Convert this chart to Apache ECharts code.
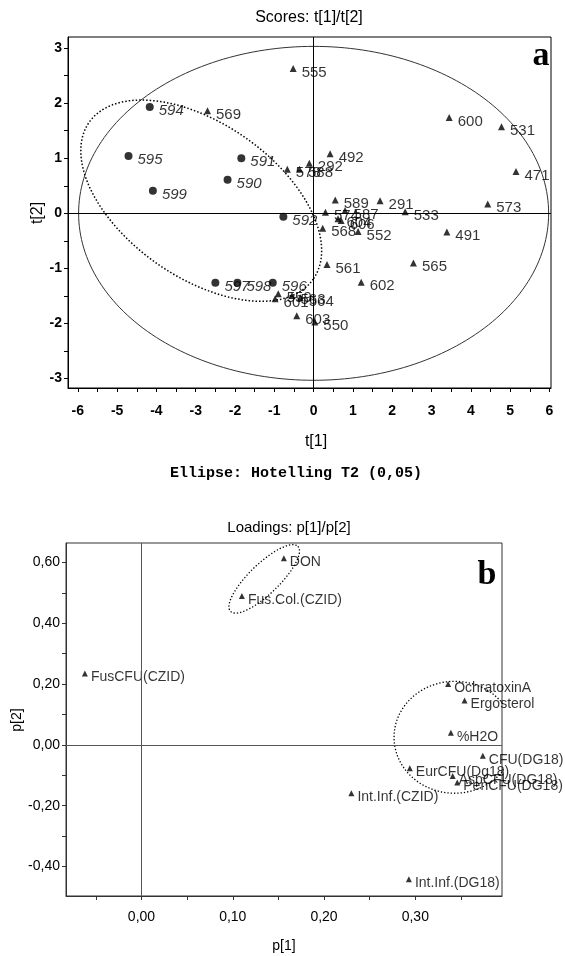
<!DOCTYPE html>
<html><head><meta charset="utf-8">
<script src="https://cdn.jsdelivr.net/npm/echarts@6/dist/echarts.min.js"></script>
<style>html,body{margin:0;padding:0;background:#fff}#c{width:565px;height:956px}</style>
</head><body><div id="c"></div><script>
// ---------- Scores plot (a) ----------
const scoreCircleNames = ['594','595','591','590','599','592','597','598','596'];
const scoreCircleX = [-4.17,-4.71,-1.84,-2.19,-4.09,-0.77,-2.50,-1.94,-1.04];
const scoreCircleY = [1.93,1.04,1.00,0.61,0.41,-0.06,-1.26,-1.26,-1.26];

const scoreTriNames = ['555','569','578','588','292','492','589','574','587','604','606','568','552','291','533','600','531','471','573','491','561','565','602','559','563','564','601','603','550'];
const scoreTriX = [-0.52,-2.70,-0.67,-0.36,-0.11,0.42,0.55,0.30,0.80,0.62,0.70,0.23,1.13,1.69,2.33,3.45,4.78,5.15,4.43,3.39,0.34,2.54,1.21,-0.90,-0.55,-0.34,-0.98,-0.43,0.03];
const scoreTriY = [2.63,1.86,0.80,0.80,0.91,1.08,0.24,0.02,0.05,-0.10,-0.13,-0.27,-0.33,0.23,0.03,1.74,1.57,0.76,0.17,-0.34,-0.93,-0.90,-1.25,-1.46,-1.49,-1.53,-1.55,-1.86,-1.97];

const scoreXLabels = [-6,-5,-4,-3,-2,-1,0,1,2,3,4,5,6];
const scoreXTicks = [-6,-5.5,-5,-4.5,-4,-3.5,-3,-2.5,-2,-1.5,-1,-0.5,0,0.5,1,1.5,2,2.5,3,3.5,4,4.5,5,5.5,6];
const scoreYLabels = [-3,-2,-1,0,1,2,3];
const scoreYTicks = [-3,-2.5,-2,-1.5,-1,-0.5,0,0.5,1,1.5,2,2.5,3];

// ellipse parameters: [cx, cy, ux, uy, vx, vy]
const hotellingEllipse = [0, 0, 5.98, 0, 0, 3.03];
const scoreGroupEllipse = [-2.86, 0.23, 2.851, -1.424, -1.123, -1.143];

// ---------- Loadings plot (b) ----------
const loadNames = ['DON','Fus.Col.(CZID)','FusCFU(CZID)','OchratoxinA','Ergosterol','%H2O','CFU(DG18)','EurCFU(Dg18)','AspCFU(DG18)','PenCFU(DG18)','Int.Inf.(CZID)','Int.Inf.(DG18)'];
const loadX = [0.156,0.110,-0.062,0.336,0.354,0.339,0.374,0.294,0.341,0.346,0.230,0.293];
const loadY = [0.614,0.490,0.235,0.200,0.146,0.040,-0.036,-0.077,-0.102,-0.124,-0.159,-0.442];

const loadXLabels = [0,0.1,0.2,0.3];
const loadXTicks = [-0.05,0,0.05,0.1,0.15,0.2,0.25,0.3,0.35];
const loadYLabels = [-0.4,-0.2,0,0.2,0.4,0.6];
const loadYTicks = [-0.4,-0.3,-0.2,-0.1,0,0.1,0.2,0.3,0.4,0.5,0.6];

const loadEllipse1 = [0.1345, 0.546, 0.0370, 0.1072, 0.0114, -0.0355];
const loadEllipse2 = [0.343, 0.025, 0.0663, 0, 0, 0.184];

function ellipsePts(p, n) {
  const out = [];
  for (let i = 0; i <= n; i++) {
    const t = 2 * Math.PI * i / n;
    out.push([p[0] + p[2] * Math.cos(t) + p[4] * Math.sin(t), p[1] + p[3] * Math.cos(t) + p[5] * Math.sin(t)]);
  }
  return out;
}
function zip(xs, ys, ns) { return xs.map((x, i) => [x, ys[i], ns[i]]); }
const comma = v => (Math.abs(v) < 1e-9 ? 0 : v).toFixed(2).replace('.', ',');

const F = 'Liberation Sans, Arial, Helvetica, sans-serif';
const zeroMark = (color) => ({
  silent: true, symbol: ['none', 'none'], animation: false,
  label: { show: false },
  lineStyle: { color: color, width: 1, type: 'solid' },
  emphasis: { disabled: true },
  data: [{ xAxis: 0 }, { yAxis: 0 }]
});

const chart = echarts.init(document.getElementById('c'), null, { renderer: 'canvas' });
chart.setOption({
  animation: false,
  backgroundColor: '#fff',
  grid: [
    { left: 68, top: 37, width: 483, height: 351, show: true, borderColor: '#000', borderWidth: 1, containLabel: false, outerBoundsMode: 'none' },
    { left: 66, top: 543, width: 436, height: 353, show: true, borderColor: '#333', borderWidth: 1, containLabel: false, outerBoundsMode: 'none' }
  ],
  xAxis: [
    { type: 'value', gridIndex: 0, min: -6.25, max: 6.04,
      axisLine: { show: true, onZero: false, lineStyle: { color: '#000', width: 1 } },
      axisTick: { show: true, customValues: scoreXTicks, length: 4, lineStyle: { color: '#000' } },
      axisLabel: { customValues: scoreXLabels, margin: 16, fontSize: 14, fontWeight: 'bold', color: '#000', fontFamily: F },
      splitLine: { show: false } },
    { type: 'value', gridIndex: 1, min: -0.0827, max: 0.395,
      axisLine: { show: true, onZero: false, lineStyle: { color: '#333', width: 1 } },
      axisTick: { show: true, customValues: loadXTicks, length: 4, lineStyle: { color: '#333' } },
      axisLabel: { customValues: loadXLabels, margin: 14, fontSize: 14, color: '#000', fontFamily: F, formatter: comma },
      splitLine: { show: false } }
  ],
  yAxis: [
    { type: 'value', gridIndex: 0, min: -3.17, max: 3.2,
      axisLine: { show: true, onZero: false, lineStyle: { color: '#000', width: 1 } },
      axisTick: { show: true, customValues: scoreYTicks, length: 4, lineStyle: { color: '#000' } },
      axisLabel: { customValues: scoreYLabels, margin: 6, fontSize: 14, fontWeight: 'bold', color: '#000', fontFamily: F },
      splitLine: { show: false } },
    { type: 'value', gridIndex: 1, min: -0.497, max: 0.664,
      axisLine: { show: true, onZero: false, lineStyle: { color: '#333', width: 1 } },
      axisTick: { show: true, customValues: loadYTicks, length: 4, lineStyle: { color: '#333' } },
      axisLabel: { customValues: loadYLabels, margin: 6, fontSize: 14, color: '#000', fontFamily: F, formatter: comma },
      splitLine: { show: false } }
  ],
  series: [
    { type: 'line', xAxisIndex: 0, yAxisIndex: 0, data: ellipsePts(hotellingEllipse, 240), showSymbol: false, symbol: 'none', silent: true,
      lineStyle: { color: '#333', width: 1 }, clip: false, z: 1 },
    { type: 'line', xAxisIndex: 0, yAxisIndex: 0, data: ellipsePts(scoreGroupEllipse, 240), showSymbol: false, symbol: 'none', silent: true,
      lineStyle: { color: '#000', width: 1.5, type: [1.5, 2] }, clip: false, z: 1 },
    { type: 'scatter', xAxisIndex: 0, yAxisIndex: 0, symbol: 'triangle', symbolSize: 7, silent: true,
      itemStyle: { color: '#000' }, data: zip(scoreTriX, scoreTriY, scoreTriNames),
      label: { show: true, position: 'right', distance: 5, offset: [0, 4], formatter: p => p.value[2], fontSize: 15, color: '#000', fontFamily: F },
      markLine: zeroMark('#000'), z: 3 },
    { type: 'scatter', xAxisIndex: 0, yAxisIndex: 0, symbol: 'circle', symbolSize: 8, silent: true,
      itemStyle: { color: '#000' }, data: zip(scoreCircleX, scoreCircleY, scoreCircleNames),
      label: { show: true, position: 'right', distance: 5, offset: [0, 4], formatter: p => p.value[2], fontSize: 15, fontStyle: 'italic', color: '#000', fontFamily: F },
      z: 3 },
    { type: 'line', xAxisIndex: 1, yAxisIndex: 1, data: ellipsePts(loadEllipse1, 200), showSymbol: false, symbol: 'none', silent: true,
      lineStyle: { color: '#000', width: 1.3, type: [1.3, 2] }, clip: false, z: 1 },
    { type: 'line', xAxisIndex: 1, yAxisIndex: 1, data: ellipsePts(loadEllipse2, 240), showSymbol: false, symbol: 'none', silent: true,
      lineStyle: { color: '#000', width: 1.3, type: [1.3, 2] }, clip: false, z: 1 },
    { type: 'scatter', xAxisIndex: 1, yAxisIndex: 1, symbol: 'triangle', symbolSize: 6, silent: true,
      itemStyle: { color: '#000' }, data: zip(loadX, loadY, loadNames),
      label: { show: true, position: 'right', distance: 3, offset: [0, 4], formatter: p => p.value[2], fontSize: 14, color: '#000', fontFamily: F },
      markLine: zeroMark('#555'), z: 3 }
  ],
  graphic: [
    { type: 'text', style: { text: 'Scores: t[1]/t[2]', x: 309, y: 18, font: '16px ' + F, fill: '#000', textAlign: 'center', textVerticalAlign: 'middle' } },
    { type: 'text', style: { text: 'a', x: 541, y: 56, font: 'bold 34px Liberation Serif, Times New Roman, serif', fill: '#000', textAlign: 'center', textVerticalAlign: 'middle' } },
    { type: 'text', x: 38, y: 213, rotation: Math.PI / 2, style: { text: 't[2]', x: 0, y: 0, font: '16px ' + F, fill: '#000', textAlign: 'center', textVerticalAlign: 'middle' } },
    { type: 'text', style: { text: 't[1]', x: 316, y: 442, font: '16px ' + F, fill: '#000', textAlign: 'center', textVerticalAlign: 'middle' } },
    { type: 'text', style: { text: 'Ellipse: Hotelling T2 (0,05)', x: 296, y: 473, font: 'bold 15px Liberation Mono, Courier New, monospace', fill: '#000', textAlign: 'center', textVerticalAlign: 'middle' } },
    { type: 'text', style: { text: 'Loadings: p[1]/p[2]', x: 289, y: 528, font: '15px ' + F, fill: '#000', textAlign: 'center', textVerticalAlign: 'middle' } },
    { type: 'text', style: { text: 'b', x: 487, y: 575, font: 'bold 34px Liberation Serif, Times New Roman, serif', fill: '#000', textAlign: 'center', textVerticalAlign: 'middle' } },
    { type: 'text', x: 17, y: 720, rotation: Math.PI / 2, style: { text: 'p[2]', x: 0, y: 0, font: '14px ' + F, fill: '#000', textAlign: 'center', textVerticalAlign: 'middle' } },
    { type: 'text', style: { text: 'p[1]', x: 284, y: 946, font: '14px ' + F, fill: '#000', textAlign: 'center', textVerticalAlign: 'middle' } }
  ]
});
</script></body></html>
